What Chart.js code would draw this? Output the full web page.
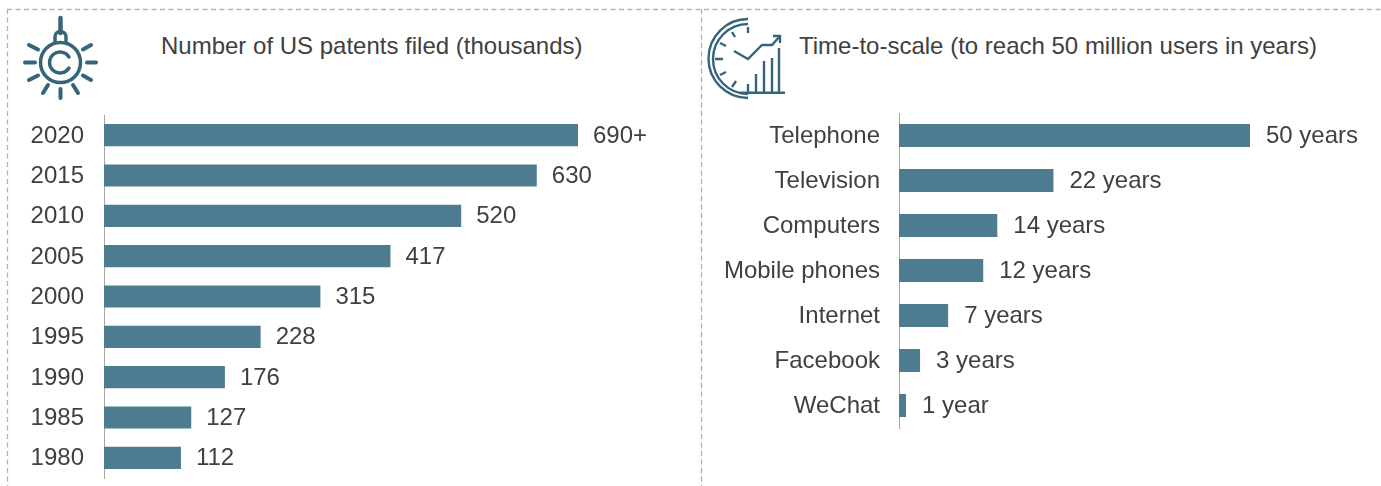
<!DOCTYPE html>
<html>
<head>
<meta charset="utf-8">
<script src="https://cdn.jsdelivr.net/npm/chart.js@4/dist/chart.umd.js"></script>
<style>
    html, body { margin: 0; padding: 0; background: #fff; overflow: hidden; }
    #page { position: relative; width: 1381px; height: 486px; font-family: "Liberation Sans", Arial, sans-serif; }
    canvas, svg { position: absolute; top: 0; }
    .title { position: absolute; top: 32px; font-size: 24px; line-height: 28px; color: #404040; white-space: nowrap; }
</style>
</head>
<body>
<div id="page">
    <svg width="1381" height="486" style="left:0">
        <!-- dashed panel borders -->
        <g stroke="#b3b3b3" stroke-width="1.3" stroke-dasharray="5 3.5" fill="none">
            <line x1="7" y1="9.5" x2="1381" y2="9.5"/>
            <line x1="7.5" y1="9" x2="7.5" y2="486"/>
            <line x1="701.5" y1="9" x2="701.5" y2="486"/>
        </g>
        <!-- bulb icon -->
        <g stroke="#36647a" stroke-width="4" stroke-linecap="round" fill="none">
            <line x1="60.5" y1="18" x2="60.5" y2="33" stroke-width="4.5"/>
            <path d="M55 43V37a5.5 5.5 0 0 1 11 0V43" stroke-width="3.5"/>
            <circle cx="60.5" cy="62.5" r="20" stroke-width="3.5"/>
            <path d="M69 57a10.5 10.5 0 1 0 0 11" stroke-width="3.5"/>
            <line x1="25" y1="62.5" x2="35" y2="62.5"/>
            <line x1="87" y1="62.5" x2="96" y2="62.5"/>
            <line x1="29" y1="45" x2="38" y2="49.5"/>
            <line x1="91" y1="45" x2="83" y2="49.5"/>
            <line x1="29" y1="80" x2="38" y2="75.5"/>
            <line x1="91" y1="80" x2="83" y2="75.5"/>
            <line x1="60.5" y1="89" x2="60.5" y2="98"/>
            <line x1="43" y1="93" x2="48" y2="85"/>
            <line x1="78" y1="93" x2="73" y2="85"/>
        </g>
        <!-- clock icon -->
        <g stroke="#36647a" stroke-width="2.4" fill="none">
            <path d="M748 19A39.5 39.5 0 0 0 748 98"/>
            <path d="M748 24A35 35 0 0 0 748 94"/>
            <path d="M748 27V33M732 32L735 37M720 43L726 46M715 59H723M720 75L726 72M732 87L736 81"/>
            <path d="M734 51L748 59L762 45H772L780 36"/>
            <path d="M773 36H780V43"/>
            <path d="M748 84V92.5M756 74V92.5M764 61V92.5M772 58V92.5M779 48V92.5"/>
            <path d="M740 92.7H785"/>
        </g>
    </svg>
    <div class="title" style="left:161px">Number of US patents filed (thousands)</div>
    <div class="title" style="left:799px">Time-to-scale (to reach 50 million users in years)</div>
    <canvas id="patentsChart" width="700" height="486" style="left:0"></canvas>
    <canvas id="scaleChart" width="681" height="486" style="left:700px"></canvas>
</div>
<script>
    var patentYears = ["2020", "2015", "2010", "2005", "2000", "1995", "1990", "1985", "1980"];
    var patentValues = [690, 630, 520, 417, 315, 228, 176, 127, 112];
    var patentLabels = ["690+", "630", "520", "417", "315", "228", "176", "127", "112"];

    var scaleNames = ["Telephone", "Television", "Computers", "Mobile phones", "Internet", "Facebook", "WeChat"];
    var scaleValues = [50, 22, 14, 12, 7, 3, 1];
    var scaleLabels = ["50 years", "22 years", "14 years", "12 years", "7 years", "3 years", "1 year"];

    var textColor = "#404040";
    var barColor = "#4d7c91";
    var fontFamily = '"Liberation Sans", Arial, sans-serif';

    // draws the text to the right of each bar
    function barLabelPlugin(labels, offset) {
        return {
            id: "barLabels",
            afterDatasetsDraw: function (chart) {
                var ctx = chart.ctx;
                ctx.save();
                ctx.font = "24px " + fontFamily;
                ctx.fillStyle = textColor;
                ctx.textAlign = "left";
                ctx.textBaseline = "middle";
                chart.getDatasetMeta(0).data.forEach(function (bar, i) {
                    ctx.fillText(labels[i], bar.x + offset, bar.y + 1);
                });
                ctx.restore();
            },
        };
    }

    function makeChart(id, categories, values, labels, opts) {
        return new Chart(document.getElementById(id), {
            type: "bar",
            data: {
                labels: categories,
                datasets: [
                    {
                        data: values,
                        backgroundColor: barColor,
                        barPercentage: opts.barPercentage,
                        categoryPercentage: 1,
                    },
                ],
            },
            options: {
                indexAxis: "y",
                responsive: false,
                animation: false,
                devicePixelRatio: 1,
                layout: { padding: opts.padding },
                plugins: { legend: { display: false }, tooltip: { enabled: false } },
                scales: {
                    x: { display: false, min: 0, max: opts.max },
                    y: {
                        afterFit: function (scale) {
                            scale.width = opts.axisWidth;
                            // label overhang would shrink the plot area
                            scale.paddingTop = 0;
                            scale.paddingBottom = 0;
                        },
                        grid: { drawOnChartArea: false, drawTicks: false },
                        border: { color: "#a6a6a6", width: 1 },
                        ticks: {
                            color: textColor,
                            padding: opts.tickPadding,
                            labelOffset: 1,
                            font: { size: 24, family: fontFamily },
                        },
                    },
                },
            },
            plugins: [barLabelPlugin(labels, opts.labelOffset)],
        });
    }

    makeChart("patentsChart", patentYears, patentValues, patentLabels, {
        max: 690,
        axisWidth: 104,
        tickPadding: 20,
        barPercentage: 0.55,
        labelOffset: 15,
        padding: { left: 0, right: 122, top: 115, bottom: 8 },
    });

    makeChart("scaleChart", scaleNames, scaleValues, scaleLabels, {
        max: 50,
        axisWidth: 199,
        tickPadding: 19,
        barPercentage: 0.51,
        labelOffset: 16,
        padding: { left: 0, right: 131, top: 113, bottom: 58 },
    });
</script>
</body>
</html>
